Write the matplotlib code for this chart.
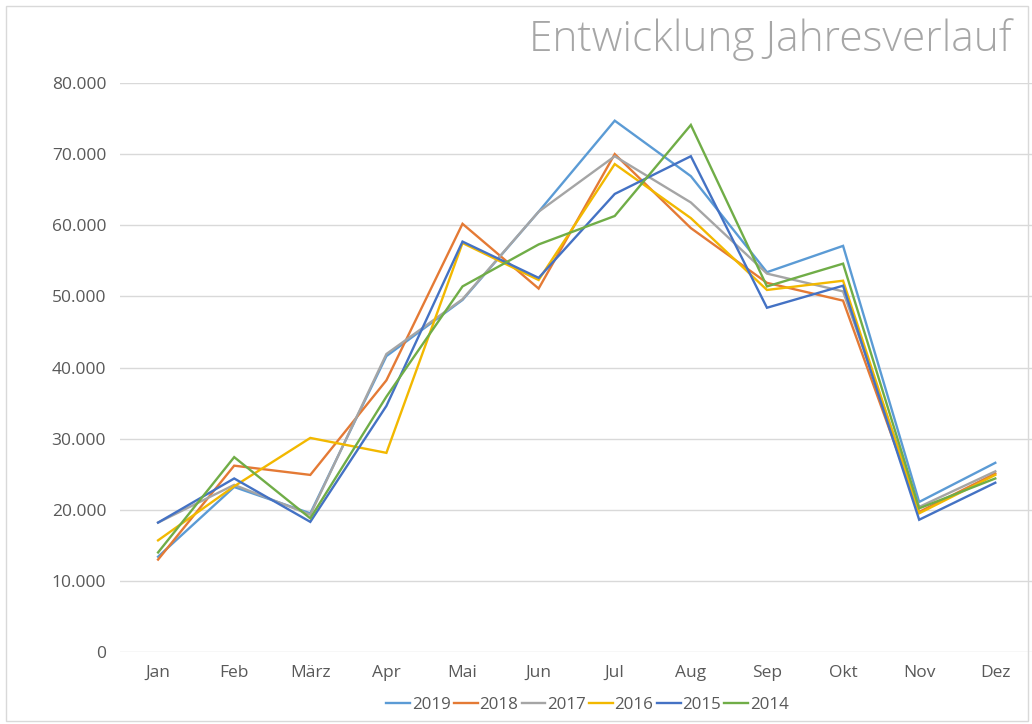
import matplotlib.pyplot as plt
from matplotlib.patches import Rectangle
from matplotlib.ticker import FuncFormatter

plt.rcParams['font.family'] = ['Open Sans', 'DejaVu Sans']

# Monate und Werte je Jahr
months = ['Jan', 'Feb', 'März', 'Apr', 'Mai', 'Jun', 'Jul', 'Aug', 'Sep', 'Okt', 'Nov', 'Dez']
years = ['2019', '2018', '2017', '2016', '2015', '2014']

v2019 = [13400, 23200, 19500, 41600, 49500, 61900, 74700, 66900, 53400, 57100, 21100, 26600]
v2018 = [13000, 26200, 24900, 38200, 60200, 51100, 70000, 59600, 51900, 49400, 19700, 25100]
v2017 = [18200, 23500, 19300, 41900, 49600, 61900, 69700, 63200, 53200, 50700, 20400, 25400]
v2016 = [15700, 23300, 30100, 28000, 57500, 52300, 68600, 61000, 50900, 52200, 19500, 24900]
v2015 = [18200, 24400, 18300, 34600, 57700, 52600, 64400, 69700, 48400, 51500, 18600, 23800]
v2014 = [14000, 27400, 18800, 35900, 51400, 57300, 61300, 74100, 51400, 54600, 20200, 24400]

series = [v2019, v2018, v2017, v2016, v2015, v2014]
colors = ['#5B9BD5', '#E47A35', '#A5A5A5', '#F2B800', '#4472C4', '#70AD47']

fig = plt.figure(figsize=(10.32, 7.24), dpi=100)
ax = fig.add_axes([0.1163, 0.0994, 0.885, 0.786])

x = range(len(months))
for vals, col, lab in zip(series, colors, years):
    ax.plot(x, vals, color=col, linewidth=1.7, label=lab, solid_joinstyle='miter')

ax.set_xlim(-0.5, len(months) - 0.5)
ax.set_ylim(0, 80000)
ax.set_yticks(range(0, 80001, 10000))
ax.yaxis.set_major_formatter(FuncFormatter(lambda v, p: f'{int(v):,}'.replace(',', '.')))
ax.set_xticks(list(x))
ax.set_xticklabels(months)

ax.grid(axis='y', color='#D9D9D9', linewidth=1)
ax.set_axisbelow(True)
for s in ax.spines.values():
    s.set_visible(False)
ax.tick_params(axis='both', length=0, labelsize=12.5, labelcolor='#595959')
ax.tick_params(axis='y', pad=10)
ax.tick_params(axis='x', pad=9)

fig.text(0.98, 0.945, 'Entwicklung Jahresverlauf', ha='right', va='center',
         fontsize=30.6, color='#A6A6A6', fontweight='light')

ax.legend(loc='center', bbox_to_anchor=(0.5693, 0.0263), bbox_transform=fig.transFigure,
          ncol=6, frameon=False, fontsize=12.2, labelcolor='#595959',
          handlelength=1.4, handletextpad=0.1, columnspacing=0.2)

fig.patches.append(Rectangle((0.006, 0.004), 0.99, 0.988, transform=fig.transFigure,
                             fill=False, edgecolor='#D9D9D9', linewidth=1))

fig.savefig('out.png', dpi=100)
